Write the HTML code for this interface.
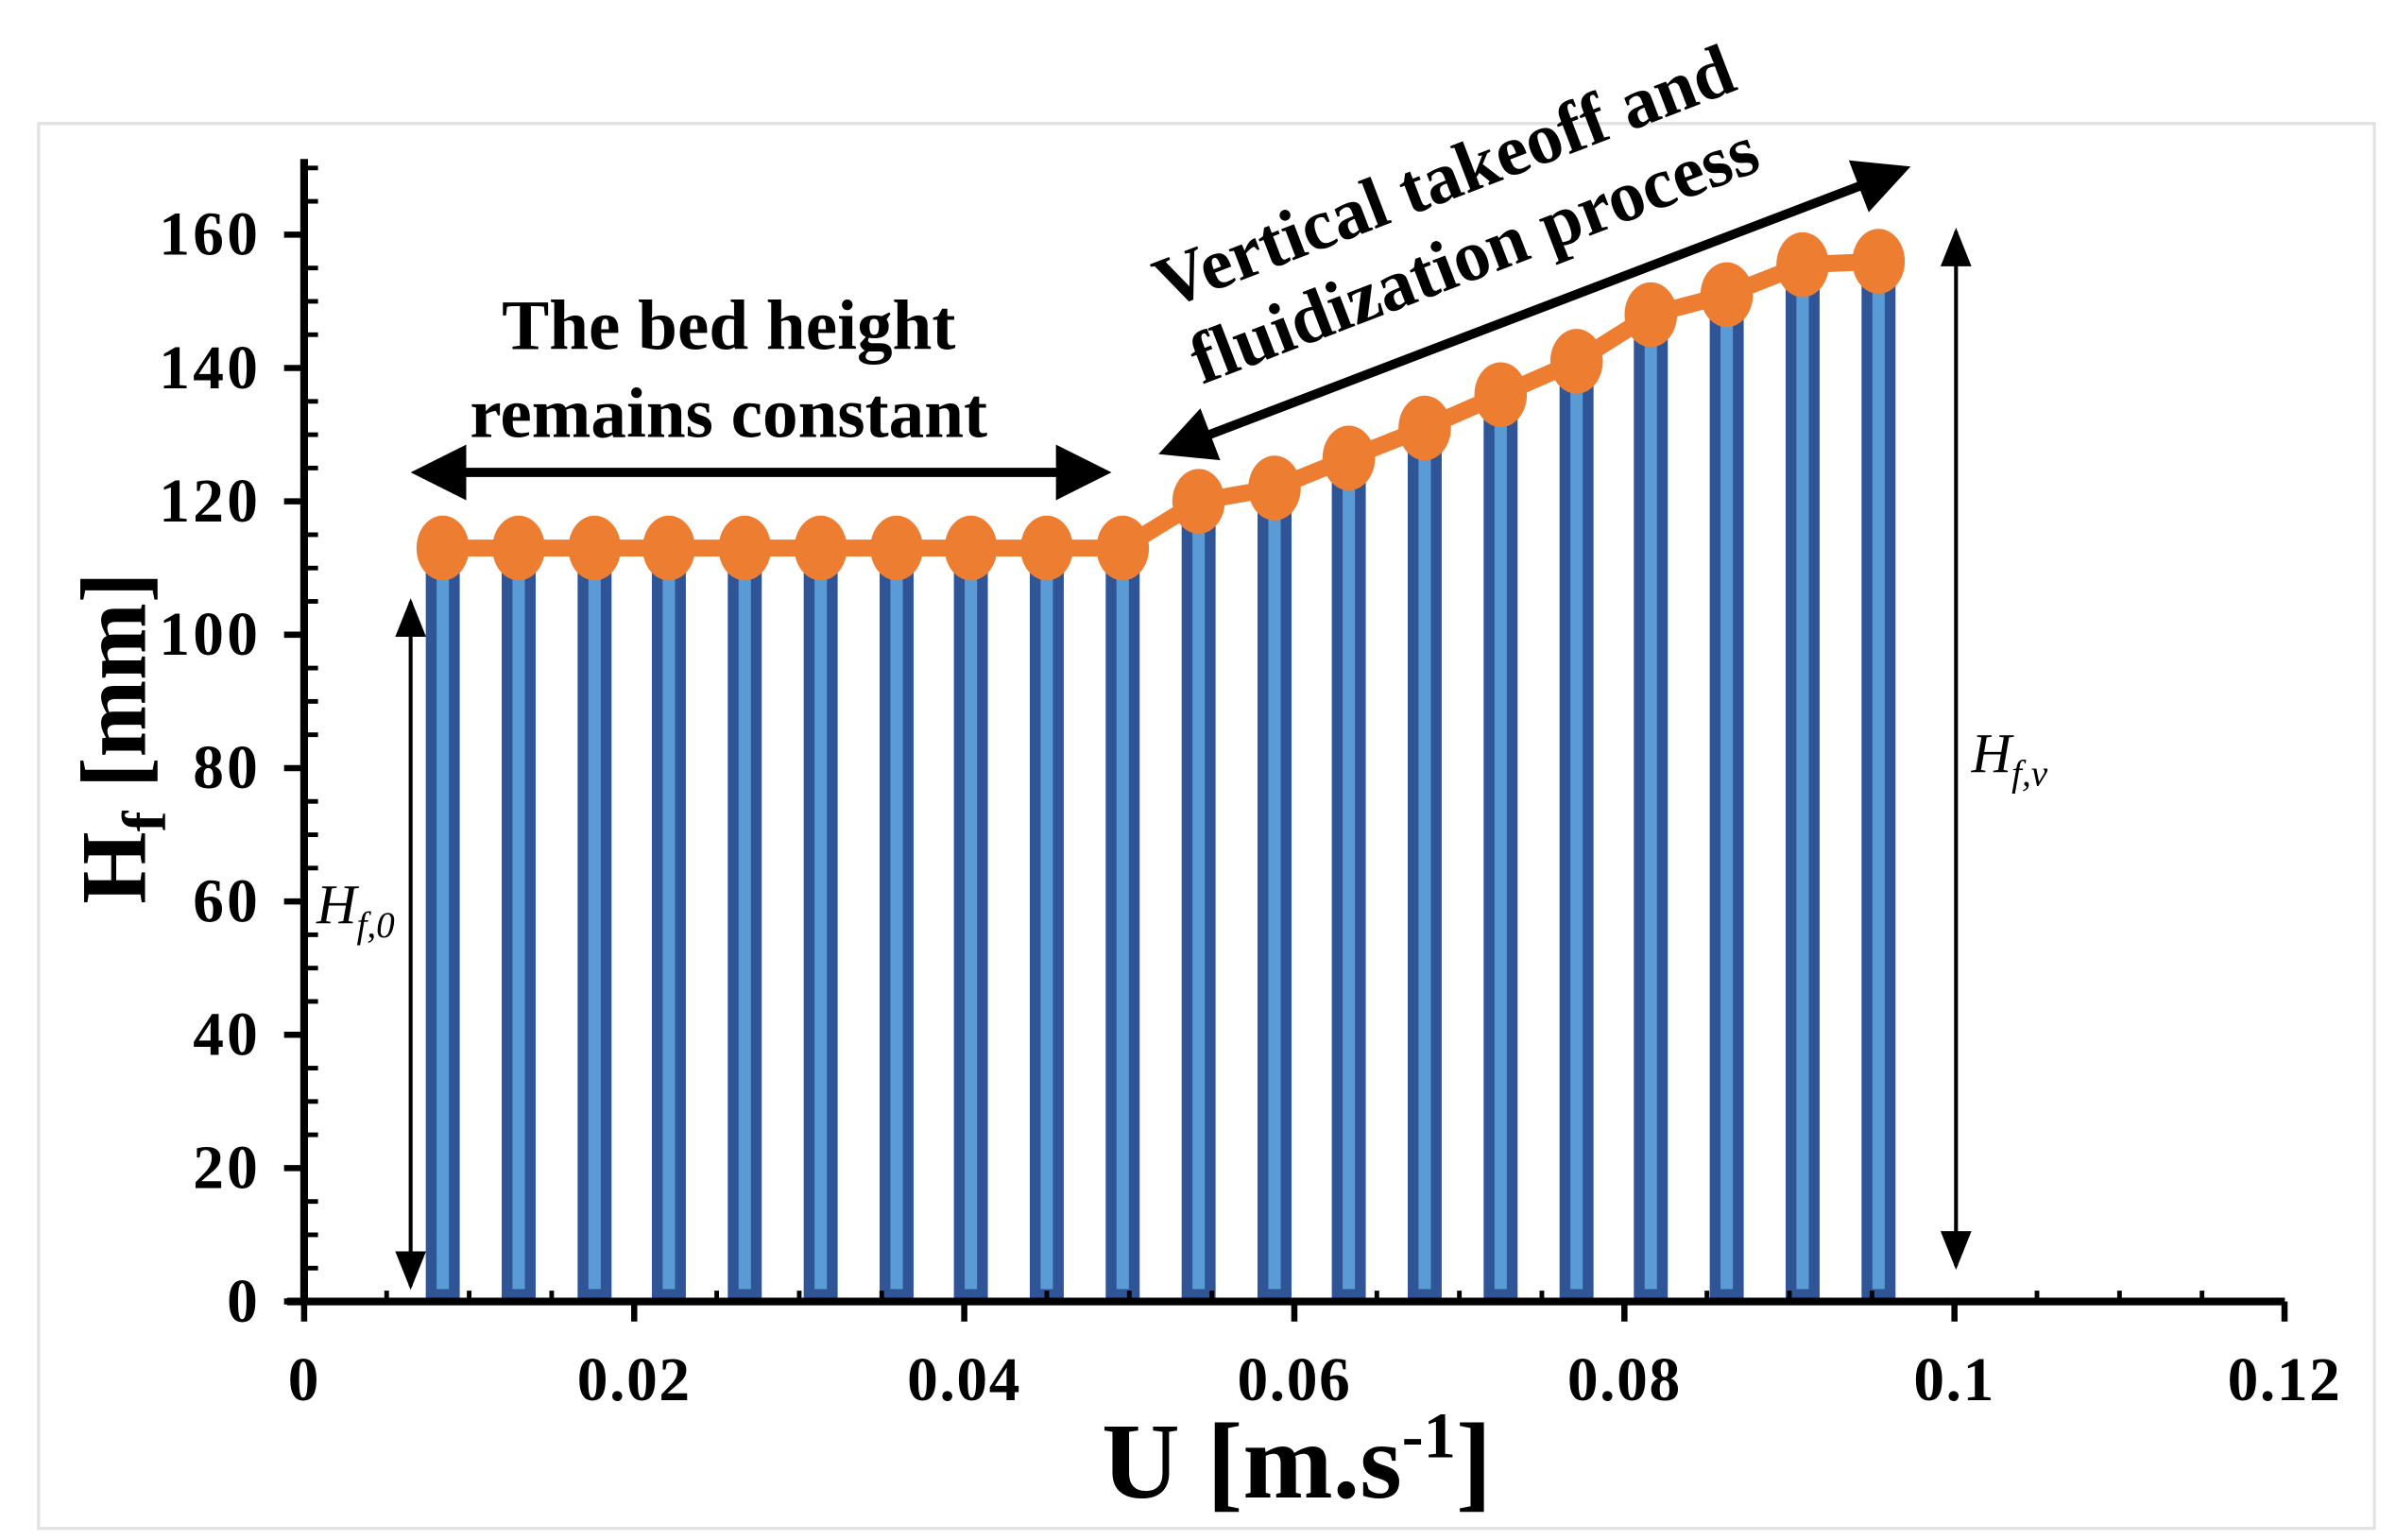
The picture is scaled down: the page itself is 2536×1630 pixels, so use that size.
<!DOCTYPE html>
<html><head><meta charset="utf-8"><style>
html,body{margin:0;padding:0;background:#fff;}
svg{display:block;}
text{font-family:"Liberation Serif",serif;}
</style></head><body>
<svg id="chart" width="2536" height="1630" viewBox="0 0 1552 997.5" preserveAspectRatio="none" xmlns="http://www.w3.org/2000/svg">
<defs>
<marker id="ah" markerWidth="6" markerHeight="6" refX="5" refY="3" orient="auto-start-reverse" markerUnits="strokeWidth"><path d="M0,0 L6,3 L0,6 Z" fill="#000"/></marker>
<marker id="ahs" markerWidth="10" markerHeight="10" refX="9" refY="5" orient="auto-start-reverse" markerUnits="strokeWidth"><path d="M0,1 L10,5 L0,9 Z" fill="#000"/></marker>
</defs>
<rect x="25" y="80" width="1513" height="910" fill="#fff" stroke="#e2e2e2" stroke-width="2"/>
<g id="bars"></g>
<g id="line"></g>
<g id="axes"></g>
<text transform="translate(94,478) rotate(-90)" text-anchor="middle" font-size="60" font-weight="bold">H<tspan font-size="40" dy="13">f</tspan><tspan dy="-13"> [mm]</tspan></text>
<text x="840" y="970" text-anchor="middle" font-size="70" font-weight="bold">U [m.s<tspan font-size="42" dy="-26">-1</tspan><tspan dy="26">]</tspan></text>
<text x="472" y="226" text-anchor="middle" font-size="46" font-weight="bold">The bed height</text>
<text x="472" y="283" text-anchor="middle" font-size="46" font-weight="bold">remains constant</text>
<line x1="272" y1="306" x2="714" y2="306" stroke="#000" stroke-width="6" marker-start="url(#ah)" marker-end="url(#ah)"/>
<g transform="translate(946,142) rotate(-21)">
<text x="0" y="-14" text-anchor="middle" font-size="47" font-weight="bold">Vertical takeoff and</text>
<text x="0" y="40" text-anchor="middle" font-size="47" font-weight="bold">fluidization process</text>
</g>
<line x1="756" y1="292" x2="1232" y2="110" stroke="#000" stroke-width="6" marker-start="url(#ah)" marker-end="url(#ah)"/>
<line x1="1267" y1="150" x2="1267" y2="820" stroke="#000" stroke-width="2.5" marker-start="url(#ahs)" marker-end="url(#ahs)"/>
<text x="1277" y="500" font-size="36" font-style="italic">H<tspan font-size="24" dy="9">f,v</tspan></text>
<line x1="266" y1="390" x2="266" y2="833" stroke="#000" stroke-width="2.5" marker-start="url(#ahs)" marker-end="url(#ahs)"/>
<text x="205" y="598" font-size="36" font-style="italic">H<tspan font-size="24" dy="9">f,0</tspan></text>
</svg>
<script>
const velocities = [0.0084,0.0130,0.0176,0.0221,0.0267,0.0313,0.0359,0.0404,0.0450,0.0496,0.0542,0.0588,0.0633,0.0679,0.0725,0.0771,0.0816,0.0862,0.0908,0.0954];
const heights = [113,113,113,113,113,113,113,113,113,113,120,122,126.5,131,136,141,148,151,155.5,156];
const xTicks = [0,0.02,0.04,0.06,0.08,0.1,0.12];
const xTickLabels = ["0","0.02","0.04","0.06","0.08","0.1","0.12"];
const yTicks = [0,20,40,60,80,100,120,140,160];

const NS="http://www.w3.org/2000/svg";
const X0=197, XW=1069/0.1, Y0=843, YH=691/160;
const xs=v=>X0+v*XW, ys=v=>Y0-v*YH;
function mk(tag,attrs,parent){const e=document.createElementNS(NS,tag);for(const k in attrs)e.setAttribute(k,attrs[k]);parent.appendChild(e);return e;}
const bars=document.getElementById('bars'), line=document.getElementById('line'), axes=document.getElementById('axes');

velocities.forEach((v,i)=>{
  const x=xs(v), y=ys(heights[i]);
  const b=mk('rect',{x:x-11,y:y,width:22,height:Y0-y,fill:'#2F5597'},bars);
  
  
  const c=mk('rect',{x:x-4,y:y+6,width:8,height:Y0-y-14,fill:'#5B9BD5'},bars);
  
  
});
const pts=velocities.map((v,i)=>xs(v)+','+ys(heights[i])).join(' ');
const pl=mk('polyline',{points:pts,fill:'none',stroke:'#ED7D31','stroke-width':11},line);


velocities.forEach((v,i)=>{
  const m=mk('ellipse',{cx:xs(v),cy:ys(heights[i]),rx:17,ry:21,fill:'#ED7D31'},line);
  
  
});

const ya=mk('line',{x1:X0,y1:Y0+2,x2:X0,y2:103,stroke:'#000','stroke-width':5},axes);


const xa=mk('line',{x1:186,y1:Y0,x2:1480,y2:Y0,stroke:'#000','stroke-width':5},axes);


for(let v=5;v<=170;v+=5){ if(v%20===0) continue;
  const t=mk('line',{x1:X0,y1:ys(v),x2:X0+9,y2:ys(v),stroke:'#000','stroke-width':3},axes);
  
  
}
yTicks.forEach(v=>{
  const t=mk('line',{x1:X0-13,y1:ys(v),x2:X0,y2:ys(v),stroke:'#000','stroke-width':4},axes);
  
  
  const l=mk('text',{x:X0-28,y:ys(v)+13,'text-anchor':'end','font-size':40,'font-weight':'bold','letter-spacing':'2'},axes);
  l.textContent=String(v);
  
  
});
for(let k=1;k<24;k++){ if(k%4===0) continue;
  const x=xs(k*0.005);
  const t=mk('line',{x1:x,y1:Y0,x2:x,y2:Y0-7,stroke:'#000','stroke-width':3},axes);
  
  
}
xTicks.forEach((v,i)=>{
  const x=xs(v);
  const t=mk('line',{x1:x,y1:Y0,x2:x,y2:Y0+13,stroke:'#000','stroke-width':4},axes);
  
  
  const l=mk('text',{x:x,y:Y0+64,'text-anchor':'middle','font-size':40,'font-weight':'bold','letter-spacing':'1'},axes);
  l.textContent=xTickLabels[i];
  
  
});
</script>
</body></html>
